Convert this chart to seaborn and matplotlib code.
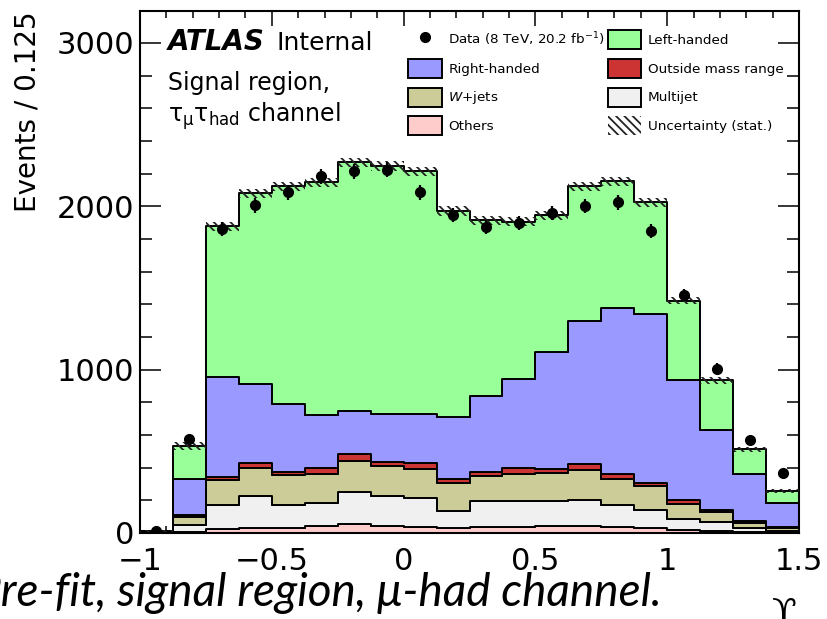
import numpy as np
import pandas as pd
import matplotlib
matplotlib.use("Agg")
import matplotlib.pyplot as plt
from matplotlib.patches import Patch
from matplotlib.lines import Line2D
from matplotlib.ticker import MultipleLocator, FuncFormatter
import seaborn as sns

# Binning of the Upsilon observable (bin width 0.125)
bin_edges = np.linspace(-1.0, 1.5, 21)

# Stacked expectations per bin (events / 0.125)
left_handed = [1, 197, 923, 1164, 1335, 1426, 1522, 1516, 1487, 1260,
               1078, 959, 839, 823, 776, 683, 484, 307, 152, 75]
right_handed = [2, 221, 612, 484, 413, 320, 264, 293, 295, 382,
                461, 549, 712, 874, 1018, 1032, 736, 486, 287, 145]
outside_mass = [1, 12, 20, 31, 20, 36, 41, 26, 41, 26,
                26, 32, 24, 41, 27, 24, 26, 14, 14, 8]
w_jets = [3, 52, 152, 172, 181, 181, 189, 187, 177, 167,
          157, 171, 173, 181, 162, 143, 92, 63, 29, 15]
multijet = [3, 40, 147, 195, 140, 142, 197, 179, 174, 106,
            154, 154, 156, 158, 136, 112, 67, 53, 25, 10]
others = [2, 8, 24, 33, 33, 41, 55, 45, 39, 30,
          39, 39, 41, 45, 35, 30, 18, 12, 5, 5]

# Statistical uncertainty of the total expectation
stat_unc = [4, 24, 28, 28, 28, 28, 28, 28, 28, 28,
            28, 28, 28, 28, 28, 28, 24, 20, 15, 12]

# Observed data
data_counts = [12, 573, 1860, 2006, 2085, 2183, 2213, 2224, 2085, 1945,
               1872, 1896, 1957, 2002, 2024, 1850, 1457, 1006, 569, 370]

components = ["Left-handed", "Right-handed", "Outside mass range",
              "W+jets", "Multijet", "Others"]
component_values = [left_handed, right_handed, outside_mass,
                    w_jets, multijet, others]
palette = {
    "Left-handed": "#99ff99",
    "Right-handed": "#9999ff",
    "Outside mass range": "#cc3333",
    "W+jets": "#cccc99",
    "Multijet": "#f0f0f0",
    "Others": "#ffcccc",
}

sns.set_style("ticks")
plt.rcParams["font.family"] = ["DejaVu Sans"]
plt.rcParams["mathtext.fontset"] = "dejavusans"
plt.rcParams["hatch.linewidth"] = 1.3
for key in ("text.color", "axes.labelcolor", "xtick.color", "ytick.color",
            "axes.edgecolor"):
    plt.rcParams[key] = "black"

W, H = 827, 619
fig = plt.figure(figsize=(W / 100, H / 100), dpi=100)
ax = fig.add_axes([140 / W, 1 - 533 / H, 659 / W, 522 / H])

centers = 0.5 * (bin_edges[:-1] + bin_edges[1:])
rows = []
for name, vals in zip(components, component_values):
    for c, v in zip(centers, vals):
        rows.append((c, v, name))
df = pd.DataFrame(rows, columns=["upsilon", "events", "component"])

sns.histplot(data=df, x="upsilon", weights="events", hue="component",
             hue_order=components, multiple="stack",
             bins=[float(e) for e in bin_edges],
             element="step", fill=True, alpha=1, palette=palette,
             edgecolor="black", linewidth=1.4, legend=False, ax=ax)

total = np.sum(np.array(component_values, dtype=float), axis=0)
unc = np.array(stat_unc, dtype=float)
ax.stairs(total + unc, bin_edges, baseline=total - unc, fill=True,
          facecolor="none", edgecolor="#222222", hatch="\\\\\\\\",
          linewidth=0, zorder=3)

data_arr = np.array(data_counts, dtype=float)
ax.errorbar(centers, data_arr, yerr=np.sqrt(data_arr), fmt="o",
            color="black", ms=7, elinewidth=1.6, capsize=0, zorder=5)

ax.set_xlim(-1.0, 1.5)
ax.set_ylim(0, 3195)
ax.xaxis.set_major_locator(MultipleLocator(0.5))
ax.xaxis.set_minor_locator(MultipleLocator(0.1))
ax.xaxis.set_major_formatter(
    FuncFormatter(lambda v, _: ("%g" % v).replace("-", "\u2212")))
ax.yaxis.set_major_locator(MultipleLocator(1000))
ax.yaxis.set_minor_locator(MultipleLocator(200))
ax.tick_params(which="both", direction="in", top=True, right=True,
               width=1.1, labelsize=22, color="black")
ax.tick_params(axis="x", which="major", length=11, pad=10)
ax.tick_params(axis="x", which="minor", length=5)
ax.tick_params(axis="y", which="major", length=15, pad=4)
ax.tick_params(axis="y", which="minor", length=8.5)
for sp in ax.spines.values():
    sp.set_linewidth(1.5)
    sp.set_color("black")

ax.set_xlabel("")
ax.set_ylabel("Events / 0.125", fontsize=20, loc="top")
ax.yaxis.set_label_coords(-0.15, 1.0)

# ATLAS label and region description
ax.text(0.042, 0.925, "ATLAS", transform=ax.transAxes, fontsize=20,
        fontweight="bold", fontstyle="italic", va="baseline")
ax.text(0.207, 0.925, "Internal", transform=ax.transAxes, fontsize=18,
        va="baseline")
ax.text(0.042, 0.848, "Signal region,", transform=ax.transAxes,
        fontsize=17, va="baseline")
ax.text(0.042, 0.788, r"$\mathregular{\tau_{\mu}\tau_{had}}$ channel",
        transform=ax.transAxes, fontsize=17, va="baseline")

legend_handles = [
    Line2D([], [], marker="o", color="black", ls="none", ms=7),
    Patch(facecolor=palette["Right-handed"], edgecolor="black", lw=1.4),
    Patch(facecolor=palette["W+jets"], edgecolor="black", lw=1.4),
    Patch(facecolor=palette["Others"], edgecolor="black", lw=1.4),
    Patch(facecolor=palette["Left-handed"], edgecolor="black", lw=1.4),
    Patch(facecolor=palette["Outside mass range"], edgecolor="black", lw=1.4),
    Patch(facecolor=palette["Multijet"], edgecolor="black", lw=1.4),
    Patch(facecolor="white", edgecolor="#222222", hatch="\\\\\\\\", lw=0),
]
legend_labels = [
    r"Data (8 TeV, 20.2 fb$^{-1}$)", "Right-handed", r"$W$+jets", "Others",
    "Left-handed", "Outside mass range", "Multijet", "Uncertainty (stat.)",
]
ax.legend(legend_handles, legend_labels, ncol=2, loc="upper left",
          bbox_to_anchor=(0.4067, 0.9636), frameon=False, fontsize=9.7,
          borderpad=0, borderaxespad=0, handlelength=2.5, handleheight=1.8,
          handletextpad=0.5, labelspacing=0.72, columnspacing=0.2)

# Axis title at the right end, partly below the frame edge
fig.text(784 / W, 1 - 597 / H, "\u03d2", fontsize=26, family="DejaVu Serif",
         ha="center", va="top")

# Slide caption overlaid on the bottom
fig.text(662 / W, 1 - 606 / H, "Pre-fit, signal region, \u03bc-had channel.",
         fontsize=33, family="Lato", fontstyle="italic", ha="right",
         va="baseline")

fig.savefig("out.png", dpi=100)
